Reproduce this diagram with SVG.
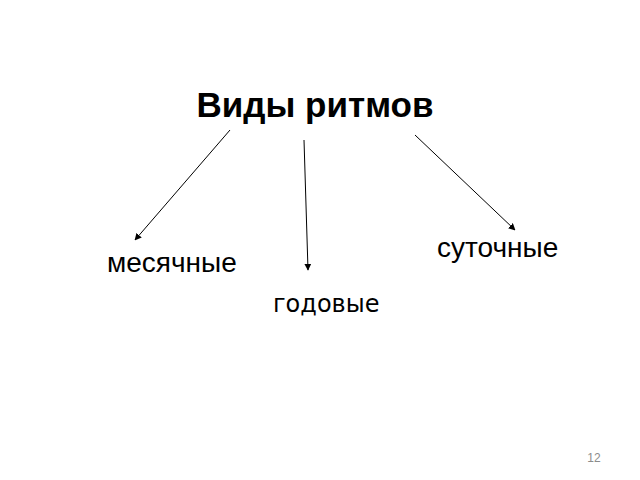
<svg xmlns="http://www.w3.org/2000/svg" width="640" height="480" viewBox="0 0 640 480">
<style>
.lbl{font-family:"Liberation Sans",Arial,sans-serif;font-size:28px;fill:#000}
.conn line{stroke:#000;stroke-width:1;marker-end:url(#ah)}
</style>
<defs>
<marker id="ah" viewBox="0 0 10 10" refX="9" refY="5" markerWidth="7" markerHeight="7" orient="auto" markerUnits="userSpaceOnUse">
<path d="M0,0 L10,5 L0,10 z" fill="#000"/>
</marker>
</defs>
<rect width="640" height="480" fill="#fff"/>
<g id="title"><text x="315" y="117" text-anchor="middle" font-family="Liberation Sans,Arial,sans-serif" font-weight="bold" font-size="35">Виды ритмов</text></g>
<g id="monthly"><text class="lbl" x="107" y="272">месячные</text></g>
<g id="yearly"><text x="273" y="312" font-family="DejaVu Sans,sans-serif" font-size="24">годовые</text></g>
<g id="daily"><text class="lbl" x="437" y="257">суточные</text></g>
<g id="connectors" class="conn">
<line x1="230" y1="130" x2="135" y2="240"/>
<line x1="304" y1="140" x2="308" y2="270"/>
<line x1="415" y1="135" x2="515" y2="230"/>
</g>
<g id="page"><text x="594" y="462" text-anchor="middle" font-family="Liberation Sans,Arial,sans-serif" font-size="12" fill="#8c8c8c">12</text></g>
</svg>
